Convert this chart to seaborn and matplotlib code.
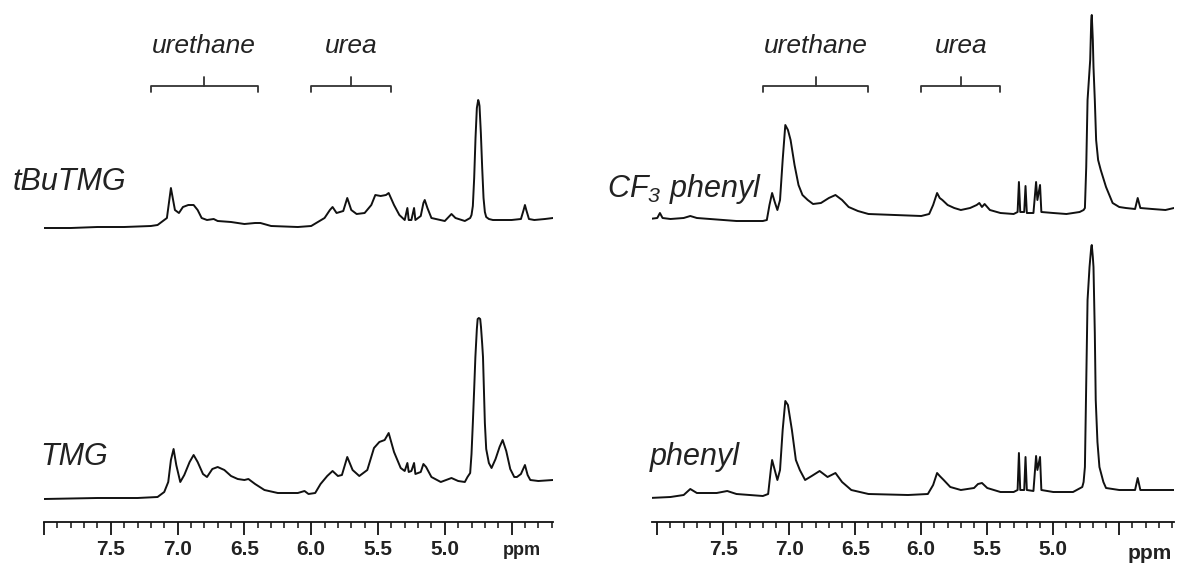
import matplotlib
matplotlib.use("Agg")
import matplotlib.pyplot as plt
import pandas as pd
import seaborn as sns
from matplotlib.ticker import MultipleLocator

# 1H NMR traces: (chemical shift in ppm, height above baseline)
tbutmg_trace = [
    (8.00, 0), (7.80, 0), (7.60, 1), (7.40, 1), (7.20, 2), (7.15, 3), (7.12, 6), (7.08, 10),
    (7.05, 40), (7.02, 18), (6.99, 15), (6.96, 21), (6.92, 23), (6.88, 23), (6.85, 18),
    (6.82, 10), (6.78, 8), (6.73, 9), (6.70, 7), (6.60, 6), (6.50, 4), (6.42, 5), (6.38, 5),
    (6.30, 2), (6.10, 1), (6.00, 2), (5.95, 6), (5.90, 10), (5.86, 18), (5.84, 21), (5.81, 15),
    (5.76, 17), (5.73, 30), (5.70, 18), (5.66, 14), (5.60, 15), (5.55, 23), (5.52, 33),
    (5.48, 32), (5.44, 33), (5.42, 35), (5.38, 23), (5.34, 13), (5.30, 8), (5.28, 20),
    (5.27, 8), (5.25, 8), (5.23, 20), (5.22, 8), (5.18, 12), (5.16, 25), (5.15, 28), (5.13, 20),
    (5.10, 10), (5.00, 7), (4.95, 14), (4.92, 10), (4.85, 7), (4.81, 10), (4.80, 13), (4.79, 22),
    (4.78, 50), (4.77, 90), (4.76, 120), (4.75, 128), (4.745, 126), (4.74, 122), (4.73, 95),
    (4.72, 60), (4.71, 30), (4.70, 16), (4.69, 11), (4.67, 9), (4.64, 8), (4.50, 8), (4.43, 9),
    (4.41, 18), (4.40, 23), (4.39, 18), (4.37, 9), (4.33, 8), (4.25, 9), (4.19, 10),
]
tmg_trace = [
    (8.00, 0), (7.60, 1), (7.30, 1), (7.15, 2), (7.10, 7), (7.07, 17), (7.05, 39), (7.03, 50),
    (7.01, 34), (6.98, 17), (6.95, 24), (6.91, 37), (6.88, 44), (6.85, 37), (6.81, 25),
    (6.78, 22), (6.74, 30), (6.70, 32), (6.65, 29), (6.60, 23), (6.55, 20), (6.50, 19),
    (6.47, 20), (6.42, 15), (6.35, 9), (6.25, 6), (6.10, 6), (6.05, 8), (6.02, 5), (5.97, 6),
    (5.93, 15), (5.88, 23), (5.84, 28), (5.80, 23), (5.77, 24), (5.73, 42), (5.69, 29),
    (5.64, 23), (5.58, 29), (5.53, 51), (5.49, 57), (5.45, 59), (5.42, 66), (5.38, 47),
    (5.33, 31), (5.30, 28), (5.28, 36), (5.27, 27), (5.25, 28), (5.23, 36), (5.22, 25),
    (5.18, 27), (5.16, 35), (5.14, 32), (5.10, 22), (5.03, 17), (4.95, 21), (4.90, 18),
    (4.85, 17), (4.83, 22), (4.81, 26), (4.80, 45), (4.79, 76), (4.78, 110), (4.771, 142),
    (4.76, 170), (4.754, 180), (4.745, 181), (4.735, 180), (4.729, 172), (4.72, 155),
    (4.714, 142), (4.70, 76), (4.69, 50), (4.67, 36), (4.65, 31), (4.62, 40), (4.59, 52),
    (4.567, 59), (4.54, 48), (4.51, 30), (4.48, 22), (4.46, 22), (4.43, 25), (4.40, 34),
    (4.38, 24), (4.36, 19), (4.30, 18), (4.19, 19),
]
cf3_phenyl_trace = [
    (8.06, -1), (8.00, 0), (7.98, 5), (7.96, 0), (7.90, -1), (7.80, 0), (7.75, 2), (7.70, 0),
    (7.60, -1), (7.40, -3), (7.20, -3), (7.17, -2), (7.15, 13), (7.13, 25), (7.11, 16),
    (7.09, 8), (7.07, 18), (7.05, 58), (7.03, 93), (7.01, 88), (6.99, 78), (6.96, 53),
    (6.93, 33), (6.90, 23), (6.86, 18), (6.82, 14), (6.76, 15), (6.70, 20), (6.65, 23),
    (6.60, 18), (6.55, 11), (6.48, 7), (6.40, 4), (6.20, 3), (6.00, 2), (5.94, 4), (5.91, 13),
    (5.88, 25), (5.86, 20), (5.84, 18), (5.80, 13), (5.75, 10), (5.70, 8), (5.63, 10),
    (5.58, 13), (5.56, 15), (5.54, 11), (5.52, 14), (5.48, 8), (5.40, 5), (5.30, 4), (5.27, 6),
    (5.26, 36), (5.25, 6), (5.22, 6), (5.21, 32), (5.20, 5), (5.15, 5), (5.13, 36), (5.12, 18),
    (5.10, 33), (5.09, 6), (5.00, 5), (4.90, 4), (4.80, 6), (4.77, 8), (4.76, 10), (4.75, 51),
    (4.74, 118), (4.72, 158), (4.712, 198), (4.708, 203), (4.70, 178), (4.695, 151),
    (4.685, 118), (4.675, 78), (4.66, 58), (4.64, 48), (4.60, 31), (4.55, 15), (4.50, 11),
    (4.45, 10), (4.38, 9), (4.36, 20), (4.34, 10), (4.25, 9), (4.15, 8), (4.085, 10),
]
phenyl_trace = [
    (8.06, -1), (7.90, 0), (7.80, 2), (7.75, 8), (7.70, 4), (7.55, 4), (7.47, 6), (7.40, 3),
    (7.20, 1), (7.16, 3), (7.14, 27), (7.13, 37), (7.11, 27), (7.09, 17), (7.07, 27),
    (7.05, 67), (7.03, 96), (7.01, 92), (6.98, 67), (6.95, 37), (6.92, 27), (6.88, 17),
    (6.83, 21), (6.77, 26), (6.73, 22), (6.71, 20), (6.65, 24), (6.60, 15), (6.53, 7),
    (6.40, 3), (6.10, 2), (5.95, 3), (5.91, 12), (5.88, 24), (5.86, 21), (5.83, 17), (5.78, 10),
    (5.70, 7), (5.60, 9), (5.57, 13), (5.54, 14), (5.50, 9), (5.40, 5), (5.30, 5), (5.27, 7),
    (5.26, 44), (5.25, 7), (5.22, 7), (5.21, 40), (5.20, 7), (5.15, 6), (5.13, 41), (5.12, 27),
    (5.10, 40), (5.09, 7), (5.00, 5), (4.85, 5), (4.78, 10), (4.77, 15), (4.76, 30),
    (4.75, 114), (4.74, 197), (4.725, 230), (4.712, 250), (4.708, 252), (4.70, 240),
    (4.695, 230), (4.685, 164), (4.678, 97), (4.665, 55), (4.65, 30), (4.62, 15), (4.60, 9),
    (4.50, 7), (4.38, 7), (4.36, 19), (4.34, 7), (4.20, 7), (4.085, 7),
]

sample_names = ["tBuTMG", "TMG", "CF$_3$ phenyl", "phenyl"]
region_names = ["urethane", "urea"]
region_ranges = [(7.2, 6.4), (6.0, 5.4)]
tick_ppm = [8.0, 7.5, 7.0, 6.5, 6.0, 5.5, 5.0, 4.5]
tick_labels = ["", "7.5", "7.0", "6.5", "6.0", "5.5", "5.0", ""]

traces = dict(zip(sample_names, [tbutmg_trace, tmg_trace, cf3_phenyl_trace, phenyl_trace]))
# vertical stacking of the traces (axis units = pixels above the ppm axis)
offsets = {"tBuTMG": 294, "TMG": 23, "CF$_3$ phenyl": 304, "phenyl": 25}

frames = []
for name in sample_names:
    ppm, inten = zip(*traces[name])
    frames.append(pd.DataFrame({"ppm": ppm, "signal": [v + offsets[name] for v in inten],
                                "sample": name}))
df = pd.concat(frames, ignore_index=True)

sns.set_theme(style="white")
plt.rcParams["font.family"] = ["Liberation Sans", "DejaVu Sans"]
plt.rcParams["mathtext.default"] = "regular"

W, H = 1181, 569
fig = plt.figure(figsize=(W / 100, H / 100), dpi=100)
ax_left = fig.add_axes([44 / W, 47 / H, (553 - 44) / W, 522 / H])
ax_right = fig.add_axes([652 / W, 47 / H, (1174 - 652) / W, 522 / H])

panels = [
    (ax_left, ["tBuTMG", "TMG"], (8.0, 4.19)),
    (ax_right, ["CF$_3$ phenyl", "phenyl"], (8.04, 4.085)),
]
ink = "#111111"

for ax, names, xlim in panels:
    sub = df[df["sample"].isin(names)]
    sns.lineplot(data=sub, x="ppm", y="signal", units="sample", estimator=None,
                 color=ink, linewidth=1.4, ax=ax, legend=False)
    ax.set_xlim(*xlim)
    ax.set_ylim(0, 522)
    ax.set_yticks([])
    ax.set_xlabel("")
    ax.set_ylabel("")
    sns.despine(ax=ax, left=True)
    ax.spines["bottom"].set_color(ink)
    ax.spines["bottom"].set_linewidth(1.3)
    ax.set_xticks(tick_ppm, tick_labels, fontsize=15, fontweight="bold", color="#222222")
    ax.xaxis.set_minor_locator(MultipleLocator(0.1))
    ax.tick_params(axis="x", which="major", bottom=True, length=9, width=1.3,
                   color=ink, pad=4)
    ax.tick_params(axis="x", which="minor", bottom=True, length=4.5, width=1.1, color=ink)

    # urethane / urea brackets
    for (a, b), label in zip(region_ranges, region_names):
        mid = (a + b) / 2
        ax.plot([a, a, b, b], [430, 436, 436, 430], color="#333333", lw=1.3,
                solid_capstyle="round", solid_joinstyle="round")
        ax.plot([mid, mid], [436, 445], color="#333333", lw=1.3)
        ax.text(mid, 469, label, ha="center", va="baseline", fontsize=19,
                style="italic", color="#222222")

# sample labels and ppm unit
label_pos = {"tBuTMG": (13, 190), "TMG": (40, 465), "CF$_3$ phenyl": (607, 197),
             "phenyl": (650, 465)}
for name in sample_names:
    x, y = label_pos[name]
    fig.text(x / W, 1 - y / H, name, ha="left", va="baseline", fontsize=22,
             style="italic", color="#222222")

fig.text(522 / W, 1 - 555 / H, "ppm", ha="center", va="baseline", fontsize=13,
         fontweight="bold", color="#222222")
fig.text(1150 / W, 1 - 559 / H, "ppm", ha="center", va="baseline", fontsize=15,
         fontweight="bold", color="#222222")

fig.savefig("out.png", dpi=100)
